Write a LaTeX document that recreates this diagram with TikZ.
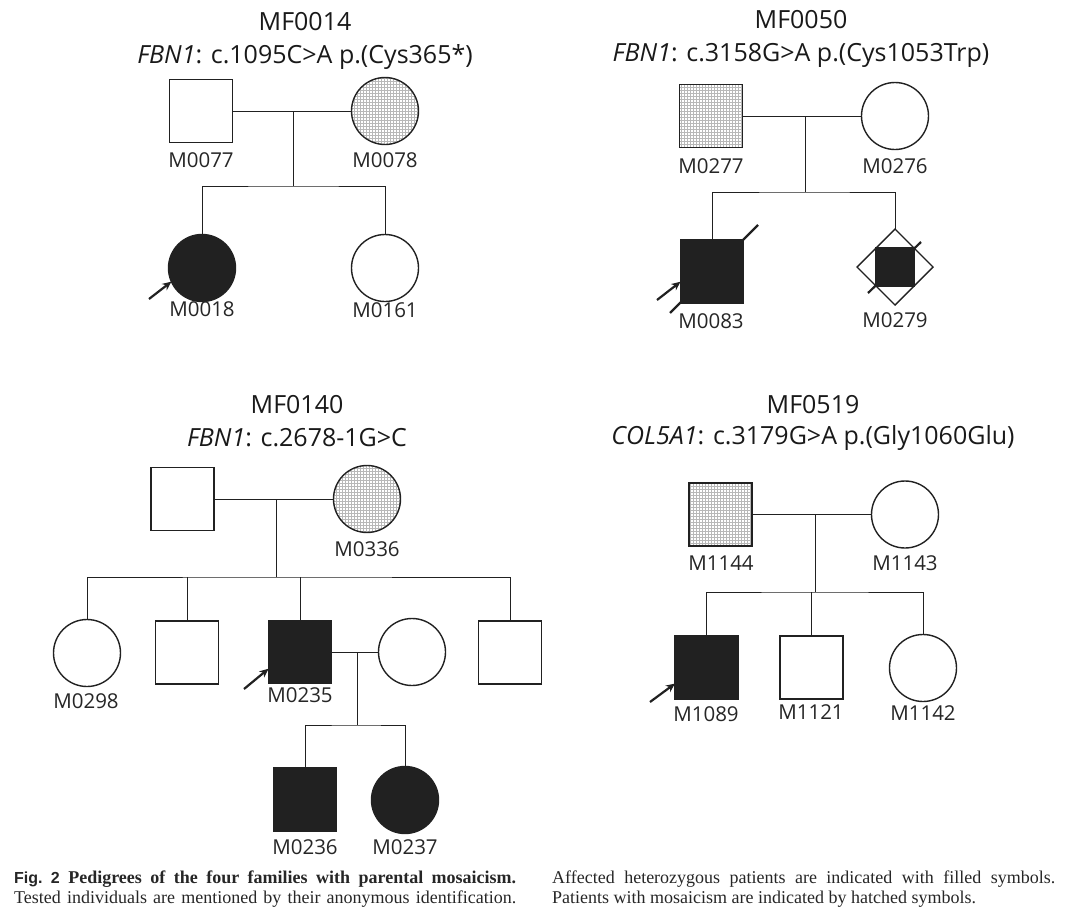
\documentclass[tikz,border=0pt]{standalone}
\usepackage{fontspec}
\setmainfont{Liberation Serif}
\newfontfamily\osans{Open Sans}
\newfontfamily\lsans{Liberation Sans}
\usetikzlibrary{patterns,arrows.meta,shapes.geometric,calc}
\colorlet{ink}{black!87}
\begin{document}
\begin{tikzpicture}[x=1pt,y=-1pt,
 sym/.style={draw=ink, line width=1.4pt, inner sep=0, outer sep=0},
 sq/.style={sym, rectangle, minimum width=63pt, minimum height=63pt},
 ci/.style={sym, circle, minimum size=67pt},
 aff/.style={fill=ink},
 hat/.style={pattern=grid, pattern color=black!28},
 lab/.style={font=\osans\fontsize{20.5}{22}\selectfont, text=black!85, inner sep=0},
 ttl/.style={font=\osans\fontsize{25}{28}\selectfont, text=black!90, inner sep=0},
 ln/.style={line width=1pt, draw=ink},
 arr/.style={line width=2.2pt, draw=ink, -{Stealth[length=9pt,width=8pt]}},
 dec/.style={line width=2.2pt, draw=ink}
]
\useasboundingbox (0,0) rectangle (1080,924);

% ---------- MF0014 ----------
\node[ttl] (t1) at (305,22) {MF0014};
\node[ttl] (s1) at (305,57) {\textit{FBN1}: c.1095C>A p.(Cys365*)};
\node[sq] (m0077) at (201,111) {};
\node[ci,hat] (m0078) at (385,111) {};
\node[ci,aff] (m0018) at (202,268) {};
\node[ci] (m0161) at (385,268) {};
\node[lab] (l0077) at (201,160) {M0077};
\node[lab] (l0078) at (385,160) {M0078};
\node[lab] (l0018) at (202,309) {M0018};
\node[lab] (l0161) at (385,310) {M0161};
\coordinate (f1m) at (293,111);
\coordinate (f1s) at (293,186);
\draw[ln] (m0077) -- (m0078);
\draw[ln] (f1m) -- (f1s);
\draw[ln] (m0018.north) |- (f1s) -| (m0161.north);
\coordinate (a1) at (149,299);
\draw[arr] (a1) -- (m0018.204);

% ---------- MF0050 ----------
\node[ttl] (t2) at (801,20) {MF0050};
\node[ttl] (s2) at (801,55) {\textit{FBN1}: c.3158G>A p.(Cys1053Trp)};
\coordinate (d1a) at (670,313);
\coordinate (d1b) at (758,225);
\draw[dec] (d1a) -- (d1b);
\node[sq,hat] (m0277) at (711,116) {};
\node[ci] (m0276) at (895,116) {};
\node[sq,aff] (m0083) at (712,271.5) {};
\node[sym,diamond,minimum size=76pt] (m0279) at (895,267) {};
\coordinate (d2a) at (868,293);
\coordinate (d2b) at (921,242);
\draw[dec] (d2a) -- (d2b);
\node[sq,aff,minimum width=38pt,minimum height=38pt] (m0279i) at (895,267) {};
\node[lab] (l0277) at (711,166) {M0277};
\node[lab] (l0276) at (895,166) {M0276};
\node[lab] (l0083) at (711,321) {M0083};
\node[lab] (l0279) at (895,320) {M0279};
\coordinate (f2m) at (805,116);
\coordinate (f2s) at (805,192);
\draw[ln] (m0277) -- (m0276);
\draw[ln] (f2m) -- (f2s);
\draw[ln] (m0083.north) |- (f2s) -| (m0279.north);
\coordinate (a2) at (657,300);
\draw[arr] (a2) -- (m0083.198);

% ---------- MF0140 ----------
\node[ttl] (t3) at (297,405) {MF0140};
\node[ttl] (s3) at (297,438) {\textit{FBN1}: c.2678-1G>C};
\node[sq] (p1) at (182.5,499) {};
\node[ci,hat] (m0336) at (367,499) {};
\node[ci] (m0298) at (87,653) {};
\node[sq] (c2) at (187,652.5) {};
\node[sq,aff] (m0235) at (300,652) {};
\node[ci] (sp) at (412,652) {};
\node[sq] (c5) at (510,652.5) {};
\node[sq,aff] (m0236) at (305,799.5) {};
\node[ci,aff] (m0237) at (405,800) {};
\node[lab] (l0336) at (367,549) {M0336};
\node[lab] (l0298) at (86,701) {M0298};
\node[lab] (l0235) at (300,695) {M0235};
\node[lab] (l0236) at (305,847) {M0236};
\node[lab] (l0237) at (405,847) {M0237};
\coordinate (f3m) at (276,499);
\coordinate (f3s) at (276,577);
\draw[ln] (p1) -- (m0336);
\draw[ln] (f3m) -- (f3s);
\draw[ln] (m0298.north) |- (f3s) -| (c5.north);
\draw[ln] (c2.north) -- (c2.north |- f3s);
\draw[ln] (m0235.north) -- (m0235.north |- f3s);
\coordinate (f4m) at (357,652);
\coordinate (f4s) at (357,725);
\draw[ln] (m0235) -- (sp);
\draw[ln] (f4m) -- (f4s);
\draw[ln] (m0236.north) |- (f4s) -| (m0237.north);
\coordinate (a3) at (244,689);
\draw[arr] (a3) -- (m0235.208);

% ---------- MF0519 ----------
\node[ttl] (t4) at (813,405) {MF0519};
\node[ttl] (s4) at (813,438) {\textit{COL5A1}: c.3179G>A p.(Gly1060Glu)};
\node[sq,hat] (m1144) at (720.5,514.5) {};
\node[ci] (m1143) at (905,514.5) {};
\node[sq,aff] (m1089) at (706.5,667.5) {};
\node[sq] (m1121) at (811.5,667.5) {};
\node[ci] (m1142) at (923,668) {};
\node[lab] (l1144) at (721,563) {M1144};
\node[lab] (l1143) at (905,563) {M1143};
\node[lab] (l1089) at (706,714) {M1089};
\node[lab] (l1121) at (811,712) {M1121};
\node[lab] (l1142) at (923,713) {M1142};
\coordinate (f5m) at (815,514.5);
\coordinate (f5s) at (815,592);
\draw[ln] (m1144) -- (m1143);
\draw[ln] (f5m) -- (f5s);
\draw[ln] (m1089.north) |- (f5s) -| (m1142.north);
\draw[ln] (m1121.north) -- (m1121.north |- f5s);
\coordinate (a4) at (650,702);
\draw[arr] (a4) -- (m1089.207);

% ---------- caption ----------
\node[anchor=north west, inner sep=0, text width=502pt, align=justify,
      font=\fontsize{18}{20}\selectfont, text=black!85] (cap1) at (14,871)
 {\parfillskip=0pt {\lsans\bfseries\fontsize{16}{20}\selectfont Fig.~2} \textbf{Pedigrees of the four families with parental mosaicism.}\linebreak
  Tested individuals are mentioned by their anonymous identification.\par};
\node[anchor=north west, inner sep=0, text width=503pt, align=justify,
      font=\fontsize{18}{20}\selectfont, text=black!85] (cap2) at (552,871)
 {Affected heterozygous patients are indicated with filled symbols.\linebreak
  Patients with mosaicism are indicated by hatched symbols.\par};
\end{tikzpicture}
\end{document}
